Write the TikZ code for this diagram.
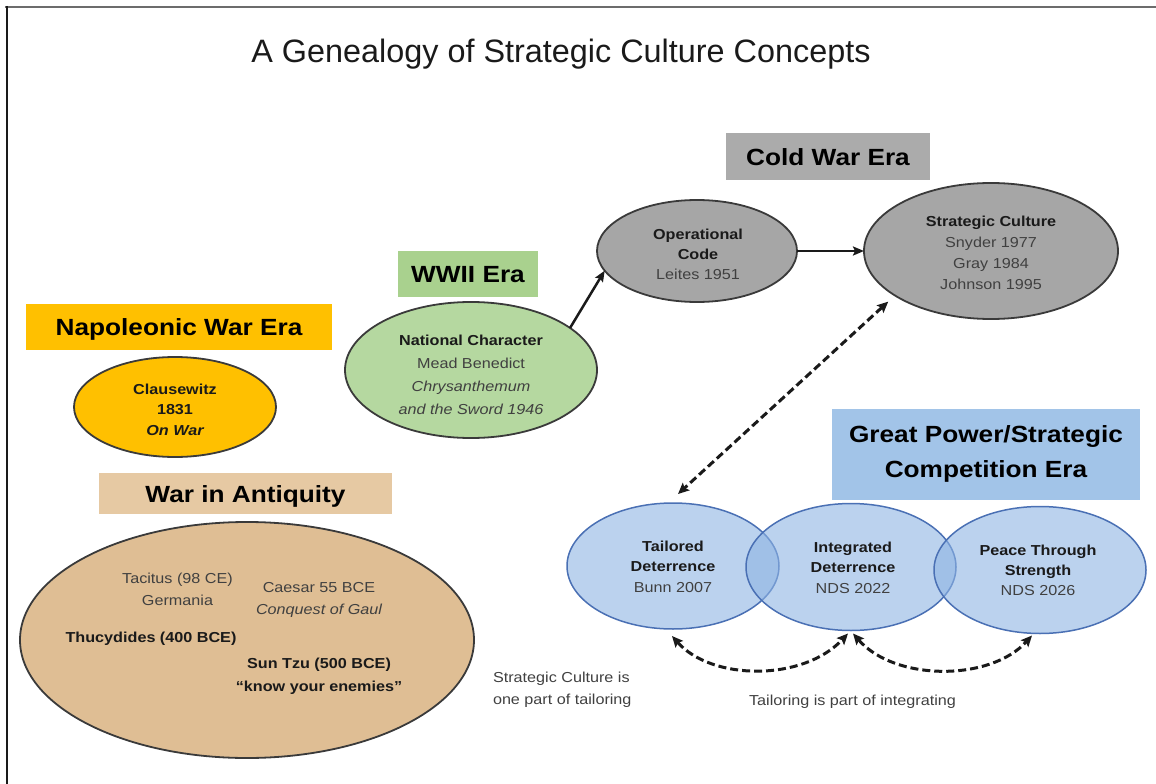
\documentclass[tikz,border=0pt]{standalone}
\usepackage{fontspec}
\setmainfont{Liberation Sans}[FakeStretch=1.12]
\newfontfamily\titlefont{Liberation Sans}
\usetikzlibrary{shapes.geometric,arrows.meta}

\definecolor{napol}{HTML}{FFC000}
\definecolor{tanbox}{HTML}{E6C9A3}
\definecolor{tanoval}{HTML}{DFBE94}
\definecolor{greenbox}{HTML}{A9D18E}
\definecolor{greenoval}{HTML}{B5D8A0}
\definecolor{graybox}{HTML}{ABABAB}
\definecolor{grayoval}{HTML}{A6A6A6}
\definecolor{bluebox}{HTML}{A2C4E8}
\definecolor{bluefill}{HTML}{8EB4E3}
\definecolor{blueline}{HTML}{4A70B4}
\definecolor{ovalline}{HTML}{3A3A3A}
\definecolor{txtgray}{HTML}{404040}
\definecolor{txtdark}{HTML}{1A1A1A}

\begin{document}
\begin{tikzpicture}[x=1bp,y=-1bp,
  every node/.style={inner sep=0pt,outer sep=0pt},
  erabox/.style={rectangle,font=\fontsize{23.5}{35}\selectfont\bfseries,text=black,
    text height=17bp,text depth=0pt},
  oval/.style={ellipse,draw=ovalline,line width=1.8bp},
  blueoval/.style={ellipse,draw=blueline,line width=1.5bp,fill=bluefill,fill opacity=0.6},
  txt/.style={align=center,font=\fontsize{14.5}{21}\selectfont,text=txtgray},
  solidarrow/.style={line width=2.5bp,draw=txtdark,-{Stealth[length=11bp,width=9bp,inset=2bp]}},
  dasharrow/.style={line width=3bp,draw=txtdark,dash pattern=on 8bp off 4bp,
    {Stealth[length=11bp,width=10bp,inset=2bp]}-{Stealth[length=11bp,width=10bp,inset=2bp]}}
]
\useasboundingbox (0,0) rectangle (1156,784);

% frame lines along the top and left edges
\coordinate (tr) at (1156,7);
\coordinate (bl) at (6.5,784);
\draw[draw=gray!85!black,line width=2.5bp] (5,7) -- (tr);
\draw[draw=txtdark,line width=2bp] (6.5,6) -- (bl);

% title
\node[font=\titlefont\fontsize{32.5}{38}\selectfont,anchor=base,text=txtdark] (title) at (561,63)
  {A Genealogy of Strategic Culture Concepts};

% ---------- Napoleonic War Era ----------
\node[erabox,fill=napol,minimum width=306bp,minimum height=46bp] (napbox) at (179,327) {Napoleonic War Era};
\node[oval,fill=napol,minimum width=202bp,minimum height=100bp] (clause) at (175,407) {};
\node[txt,text=txtdark,font=\fontsize{14.5}{20.5}\selectfont\bfseries] (clauseT) at (175,409.5)
  {Clausewitz\\1831\\\itshape On War};

% ---------- War in Antiquity ----------
\node[erabox,fill=tanbox,minimum width=293bp,minimum height=41bp] (antbox) at (245.5,493.5) {War in Antiquity};
\node[oval,fill=tanoval,minimum width=454bp,minimum height=236bp] (antiq) at (247,640) {};
\node[txt,font=\fontsize{14.5}{22}\selectfont] (tacT) at (177.5,589) {Tacitus (98 CE)\\Germania};
\node[txt,font=\fontsize{14.5}{22}\selectfont] (caesT) at (319,600) {Caesar 55 BCE\\\itshape Conquest of Gaul};
\node[txt,text=txtdark,font=\fontsize{14.5}{22}\selectfont\bfseries] (thucT) at (151,639) {Thucydides (400 BCE)};
\node[txt,text=txtdark,font=\fontsize{14.5}{23}\selectfont\bfseries] (sunT) at (319,676.5)
  {Sun Tzu (500 BCE)\\“know your enemies”};

% ---------- WWII Era ----------
\node[erabox,fill=greenbox,minimum width=140bp,minimum height=46bp] (wwbox) at (468,274) {WWII Era};
\node[oval,fill=greenoval,minimum width=252bp,minimum height=136bp] (natchar) at (471,370) {};
\node[txt,font=\fontsize{14.5}{23.3}\selectfont] (natT) at (471,375)
  {\textbf{\color{txtdark}National Character}\\Mead Benedict\\\itshape Chrysanthemum\\\itshape and the Sword 1946};

% ---------- Cold War Era ----------
\node[erabox,fill=graybox,minimum width=204bp,minimum height=47bp] (cwbox) at (828,156.5) {Cold War Era};
\node[oval,fill=grayoval,minimum width=200bp,minimum height=102bp] (opcode) at (697,251) {};
\node[txt,font=\fontsize{14.5}{20.5}\selectfont] (opT) at (698,254.3)
  {\textbf{\color{txtdark}Operational}\\\textbf{\color{txtdark}Code}\\Leites 1951};
\node[oval,fill=grayoval,minimum width=254bp,minimum height=136bp] (strat) at (991,251) {};
\node[txt,font=\fontsize{14.5}{21}\selectfont] (stratT) at (991,252.5)
  {\textbf{\color{txtdark}Strategic Culture}\\Snyder 1977\\Gray 1984\\Johnson 1995};

% ---------- Great Power / Strategic Competition Era ----------
\node[rectangle,fill=bluebox,minimum width=308bp,minimum height=91bp,align=center,
  font=\fontsize{23.5}{35}\selectfont\bfseries,text=black] (gpbox) at (986,454)
  {Great Power/Strategic\\Competition Era};
\node[blueoval,minimum width=212bp,minimum height=126bp] (tail) at (673,566) {};
\node[blueoval,minimum width=210bp,minimum height=127bp] (integ) at (851,567) {};
\node[blueoval,minimum width=212bp,minimum height=127bp] (peace) at (1040,570) {};
\node[txt,font=\fontsize{14.5}{20.5}\selectfont] (tailT) at (673,566.7)
  {\textbf{\color{txtdark}Tailored}\\\textbf{\color{txtdark}Deterrence}\\Bunn 2007};
\node[txt,font=\fontsize{14.5}{20.5}\selectfont] (integT) at (853,567.7)
  {\textbf{\color{txtdark}Integrated}\\\textbf{\color{txtdark}Deterrence}\\NDS 2022};
\node[txt,font=\fontsize{14.5}{20.5}\selectfont] (peaceT) at (1038,570.3)
  {\textbf{\color{txtdark}Peace Through}\\\textbf{\color{txtdark}Strength}\\NDS 2026};

% notes
\node[txt,align=left,anchor=west,font=\fontsize{14.5}{22}\selectfont] (noteL) at (493,689.5)
  {Strategic Culture is\\one part of tailoring};
\node[txt] (noteR) at (852.5,702) {Tailoring is part of integrating};

% ---------- connectors ----------
\draw[solidarrow] (natchar.23) -- (opcode.192);
\draw[solidarrow] (opcode.east) -- (strat.west);
\draw[dasharrow] ([shift={(-7,6)}]strat.205) -- ([shift={(5,-9)}]tail.north);
\draw[dasharrow] ([shift={(-1,7)}]tail.south) .. controls +(40,45) and +(-45,48) .. ([shift={(-3,3)}]integ.south);
\draw[dasharrow] ([shift={(2,3)}]integ.south) .. controls +(42,48) and +(-42,46) .. ([shift={(-8,2)}]peace.south);

\end{tikzpicture}
\end{document}
